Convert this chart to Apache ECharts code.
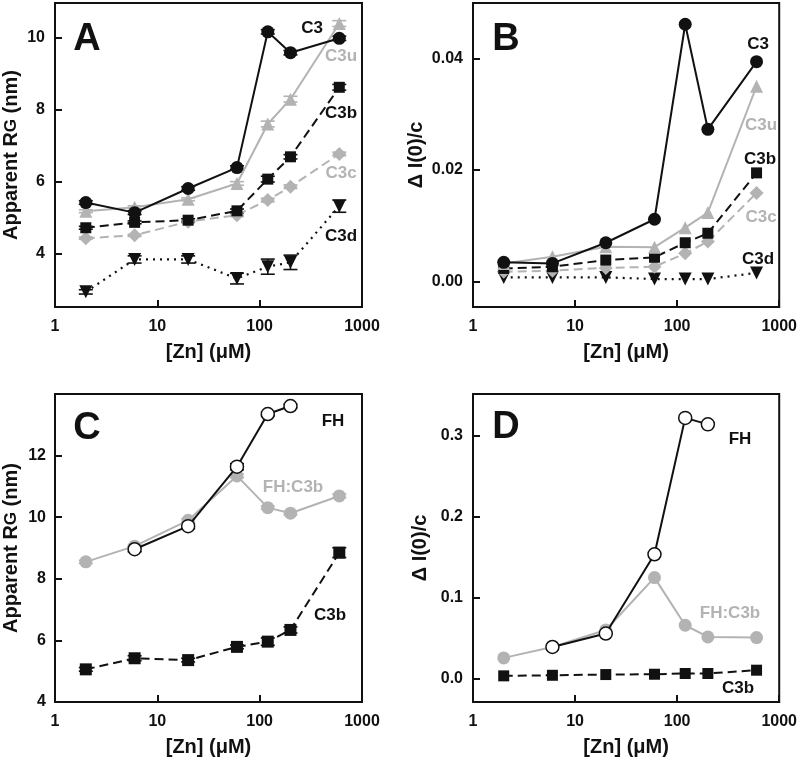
<!DOCTYPE html>
<html><head><meta charset="utf-8">
<script src="https://cdn.jsdelivr.net/npm/echarts@6/dist/echarts.min.js"></script>
<style>html,body{margin:0;padding:0;background:#fff}#c{width:800px;height:765px}</style>
</head><body><div id="c"></div>
<script>
// ---------- data ----------
const zn   = [2, 6, 20, 60, 120, 200, 600];
const znFH = [6, 20, 60, 120, 200];

// Panel A – apparent Rg (nm)
const rgC3  = [5.43, 5.15, 5.82, 6.40, 10.17, 9.59, 9.99];
const rgC3u = [5.19, 5.30, 5.52, 5.96, 7.61, 8.30, 10.40];
const rgC3b = [4.73, 4.88, 4.94, 5.20, 6.08, 6.70, 8.63];
const rgC3c = [4.44, 4.52, 4.90, 5.08, 5.50, 5.87, 6.78];
const rgC3d = [2.95, 3.85, 3.85, 3.32, 3.65, 3.77, 5.33];
const errC3  = [0.05, 0.05, 0.05, 0.05, 0.06, 0.06, 0.06];
const errC3u = [0.04, 0.04, 0.04, 0.05, 0.08, 0.08, 0.08];
const errC3b = [0.04, 0.04, 0.04, 0.05, 0.08, 0.06, 0.08];
const errC3c = [0.03, 0.03, 0.03, 0.04, 0.05, 0.05, 0.05];
const errC3d = [0.06, 0.10, 0.10, 0.15, 0.21, 0.20, 0.17];

// Panel B – Δ I(0)/c
const iC3  = [0.0035, 0.0033, 0.0070, 0.0112, 0.0461, 0.0273, 0.0394];
const iC3u = [0.0033, 0.0045, 0.0063, 0.0062, 0.0097, 0.0124, 0.0350];
const iC3b = [0.0024, 0.0027, 0.0039, 0.0044, 0.0070, 0.0087, 0.0195];
const iC3c = [0.0018, 0.0020, 0.0025, 0.0027, 0.0051, 0.0072, 0.0159];
const iC3d = [0.0008, 0.0008, 0.0008, 0.0005, 0.0005, 0.0005, 0.0016];

// Panel C – apparent Rg (nm)
const rgFH     = [8.96, 9.71, 11.64, 13.35, 13.61];
const rgFHC3b  = [8.55, 9.06, 9.90, 11.34, 10.31, 10.13, 10.69];
const rgC3bC   = [5.06, 5.42, 5.36, 5.79, 5.96, 6.34, 8.85];
const errFH    = [0.08, 0.08, 0.10, 0.06, 0.06];
const errFHC3b = [0.05, 0.05, 0.05, 0.06, 0.05, 0.05, 0.06];
const errC3bC  = [0.06, 0.08, 0.06, 0.06, 0.12, 0.10, 0.16];

// Panel D – Δ I(0)/c
const iFH    = [0.039, 0.0556, 0.1535, 0.322, 0.314];
const iFHC3b = [0.0255, 0.039, 0.060, 0.1247, 0.0658, 0.0514, 0.0506];
const iC3bD  = [0.0033, 0.0040, 0.0049, 0.0053, 0.0062, 0.0062, 0.0103];

const xTickLabels = [1, 10, 100, 1000];
const yTicksA = [4, 6, 8, 10];
const yTicksB = [0, 0.02, 0.04];
const yTicksC = [4, 6, 8, 10, 12];
const yTicksD = [0, 0.1, 0.2, 0.3];

// ---------- styling helpers ----------
const FONT = 'Liberation Sans';
const BLACK = '#111';
const GRAY = '#b3b3b3';

function pairs(xs, ys) { return xs.map((x, i) => [x, ys[i]]); }
function triples(xs, ys, es) { return xs.map((x, i) => [x, ys[i], es[i]]); }

function lineSeries(gi, xs, ys, o) {
  return {
    type: 'line', xAxisIndex: gi, yAxisIndex: gi,
    data: pairs(xs, ys),
    symbol: o.symbol, symbolSize: o.size, symbolRotate: o.rotate || 0,
    showAllSymbol: true, animation: false, z: o.z || 3,
    lineStyle: { color: o.color, width: o.width || 2, type: o.dash || 'solid', cap: o.cap || 'butt' },
    itemStyle: { color: o.fill || o.color, borderColor: o.border || o.color, borderWidth: o.bw || 0, opacity: 1 },
    emphasis: { disabled: true }
  };
}

function errSeries(gi, xs, ys, es, color) {
  return {
    type: 'custom', xAxisIndex: gi, yAxisIndex: gi, z: 2, animation: false,
    data: triples(xs, ys, es),
    encode: { x: 0, y: 1 },
    renderItem: function (params, api) {
      const x = api.value(0), y = api.value(1), e = api.value(2);
      const t = api.coord([x, y + e]);
      const b = api.coord([x, y - e]);
      const hw = 7;
      const st = { stroke: color, lineWidth: 1.6 };
      return { type: 'group', children: [
        { type: 'line', shape: { x1: t[0], y1: t[1], x2: b[0], y2: b[1] }, style: st },
        { type: 'line', shape: { x1: t[0] - hw, y1: t[1], x2: t[0] + hw, y2: t[1] }, style: st },
        { type: 'line', shape: { x1: b[0] - hw, y1: b[1], x2: b[0] + hw, y2: b[1] }, style: st }
      ] };
    }
  };
}

const grids = [
  { left: 54,  right: 438, top: 3,   bottom: 458 },
  { left: 473, right: 20,  top: 3,   bottom: 458 },
  { left: 54,  right: 438, top: 394, bottom: 63 },
  { left: 473, right: 20,  top: 394, bottom: 63 }
].map(g => Object.assign(g, { show: true, borderColor: BLACK, borderWidth: 2, backgroundColor: 'transparent', containLabel: false }));

const xAxes = [0, 1, 2, 3].map(i => ({
  type: 'log', logBase: 10, min: 1, max: 1000, gridIndex: i,
  name: '[Zn] (μM)', nameLocation: 'middle', nameGap: 35,
  nameTextStyle: { fontFamily: FONT, fontWeight: 'bold', fontSize: 20, color: BLACK },
  axisLine: { show: true, onZero: false, lineStyle: { color: BLACK, width: 2 } },
  axisTick: { show: true, inside: true, length: 7, lineStyle: { color: BLACK, width: 2 } },
  minorTick: { show: false },
  axisLabel: { fontFamily: FONT, fontWeight: 'bold', fontSize: 16, color: BLACK, margin: 12,
    customValues: xTickLabels, formatter: v => String(Math.round(v)) },
  splitLine: { show: false }
}));

function yAxis(i, min, max, ticks, name, gap, margin, fmt) {
  return {
    type: 'value', gridIndex: i, min: min, max: max,
    name: name, nameLocation: 'middle', nameGap: gap,
    nameTextStyle: { fontFamily: FONT, fontWeight: 'bold', fontSize: 20, color: BLACK,
      rich: { s: { fontFamily: FONT, fontWeight: 'bold', fontSize: 17, color: BLACK } } },
    axisLine: { show: true, onZero: false, lineStyle: { color: BLACK, width: 2 } },
    axisTick: { show: true, inside: true, length: 7, customValues: ticks, lineStyle: { color: BLACK, width: 2 } },
    axisLabel: { fontFamily: FONT, fontWeight: 'bold', fontSize: 16, color: BLACK, margin: margin,
      customValues: ticks, formatter: fmt },
    splitLine: { show: false }
  };
}

const yAxes = [
  yAxis(0, 2.53, 10.97, yTicksA, 'Apparent R{s|G} (nm)', 34, 10, v => String(v)),
  yAxis(1, -0.0045, 0.0499, yTicksB, 'Δ I(0)/c', 47, 10, v => v.toFixed(2)),
  yAxis(2, 4, 14, yTicksC, 'Apparent R{s|G} (nm)', 34, 9, v => String(v)),
  yAxis(3, -0.029, 0.3515, yTicksD, 'Δ I(0)/c', 43, 10, v => v.toFixed(1))
];

const sC3  = { symbol: 'circle', size: 13, color: BLACK };
const sC3u = { symbol: 'triangle', size: 13, color: GRAY };
const sC3b = { symbol: 'rect', size: 11, color: BLACK, dash: [9, 5] };
const sC3c = { symbol: 'diamond', size: 14, color: GRAY, dash: [9, 5] };
const sC3d = { symbol: 'triangle', size: 13, rotate: 180, color: BLACK, dash: [2, 5], width: 2.2 };

const series = [
  // Panel A
  errSeries(0, zn, rgC3c, errC3c, GRAY),
  errSeries(0, zn, rgC3u, errC3u, GRAY),
  errSeries(0, zn, rgC3b, errC3b, BLACK),
  errSeries(0, zn, rgC3, errC3, BLACK),
  errSeries(0, zn, rgC3d, errC3d, BLACK),
  lineSeries(0, zn, rgC3c, sC3c),
  lineSeries(0, zn, rgC3u, sC3u),
  lineSeries(0, zn, rgC3b, sC3b),
  lineSeries(0, zn, rgC3d, sC3d),
  lineSeries(0, zn, rgC3, sC3),
  // Panel B
  lineSeries(1, zn, iC3d, sC3d),
  lineSeries(1, zn, iC3c, sC3c),
  lineSeries(1, zn, iC3b, sC3b),
  lineSeries(1, zn, iC3u, sC3u),
  lineSeries(1, zn, iC3, sC3),
  // Panel C
  errSeries(2, zn, rgFHC3b, errFHC3b, GRAY),
  errSeries(2, zn, rgC3bC, errC3bC, BLACK),
  errSeries(2, znFH, rgFH, errFH, BLACK),
  lineSeries(2, zn, rgFHC3b, { symbol: 'circle', size: 13, color: GRAY }),
  lineSeries(2, zn, rgC3bC, { symbol: 'rect', size: 12, color: BLACK, dash: [9, 5] }),
  lineSeries(2, znFH, rgFH, { symbol: 'circle', size: 13, color: BLACK, fill: '#fff', border: BLACK, bw: 1.5, z: 4 }),
  // Panel D
  lineSeries(3, zn, iFHC3b, { symbol: 'circle', size: 13, color: GRAY }),
  lineSeries(3, zn, iC3bD, { symbol: 'rect', size: 11, color: BLACK, dash: [9, 5] }),
  lineSeries(3, znFH, iFH, { symbol: 'circle', size: 13, color: BLACK, fill: '#fff', border: BLACK, bw: 1.5, z: 4 })
];

function txt(x, y, text, size, color) {
  return { type: 'text', x: x, y: y, z: 20, silent: true,
    style: { text: text, fill: color, fontFamily: FONT, fontWeight: 'bold', fontSize: size,
      align: 'center', verticalAlign: 'middle' } };
}

const graphic = [
  txt(87, 40, 'A', 38, BLACK),
  txt(506, 40, 'B', 38, BLACK),
  txt(87, 429, 'C', 38, BLACK),
  txt(506, 428, 'D', 38, BLACK),
  txt(312, 28, 'C3', 17, BLACK),
  txt(341, 56, 'C3u', 17, GRAY),
  txt(341, 113, 'C3b', 17, BLACK),
  txt(341, 173, 'C3c', 17, GRAY),
  txt(341, 236, 'C3d', 17, BLACK),
  txt(758, 44, 'C3', 17, BLACK),
  txt(761, 125, 'C3u', 17, GRAY),
  txt(760, 159, 'C3b', 17, BLACK),
  txt(761, 217, 'C3c', 17, GRAY),
  txt(758, 259, 'C3d', 17, BLACK),
  txt(333, 421, 'FH', 17, BLACK),
  txt(293, 487, 'FH:C3b', 17, GRAY),
  txt(330, 615, 'C3b', 17, BLACK),
  txt(740, 439, 'FH', 17, BLACK),
  txt(730, 613, 'FH:C3b', 17, GRAY),
  txt(738, 688, 'C3b', 17, BLACK)
];

const chart = echarts.init(document.getElementById('c'), null, { renderer: 'canvas' });
chart.setOption({
  animation: false,
  backgroundColor: '#fff',
  textStyle: { fontFamily: FONT },
  grid: grids, xAxis: xAxes, yAxis: yAxes, series: series, graphic: graphic
});
</script></body></html>
